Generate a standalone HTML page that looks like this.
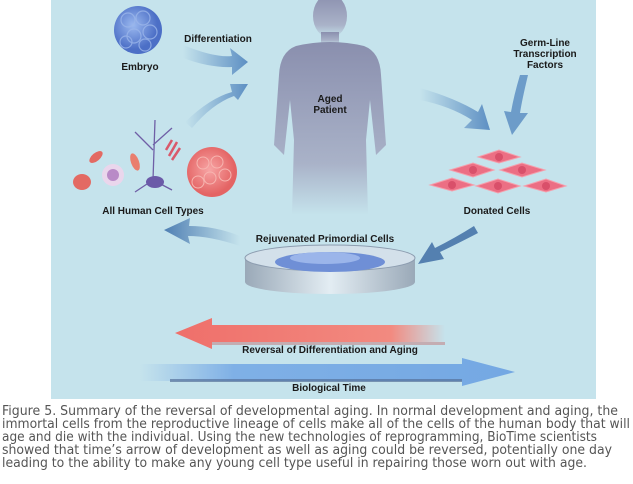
<!DOCTYPE html>
<html><head><meta charset="utf-8"><style>
html,body{margin:0;padding:0;background:#fff;width:633px;height:484px;overflow:hidden}
svg text{font-family:"Liberation Sans",sans-serif;font-weight:bold;font-size:10px;fill:#1a1a1a;text-anchor:middle}
svg text.c{font-family:"DejaVu Sans","Liberation Sans",sans-serif;font-weight:normal;font-size:13px;fill:#555;text-anchor:start}
</style></head><body>
<svg width="633" height="484" style="position:absolute;left:0;top:0">
<defs>
<linearGradient id="fig" x1="0" y1="0" x2="0" y2="1"><stop offset="0" stop-color="#8a8fae"/><stop offset="0.7" stop-color="#a9b2c8"/><stop offset="1" stop-color="#c5e3ec"/></linearGradient>
<radialGradient id="emb" cx=".4" cy=".4"><stop offset="0" stop-color="#9ab8ef"/><stop offset="1" stop-color="#4c6fc6"/></radialGradient>
<radialGradient id="pk" cx=".45" cy=".45"><stop offset="0" stop-color="#f7a5a5"/><stop offset="1" stop-color="#e46464"/></radialGradient>
<linearGradient id="ba" x1="0" x2="1"><stop offset="0" stop-color="#c5e3ec"/><stop offset="1" stop-color="#5d8fc3"/></linearGradient>
<linearGradient id="ba2" x1="1" x2="0"><stop offset="0" stop-color="#c5e3ec"/><stop offset="1" stop-color="#4f7fb3"/></linearGradient>
<linearGradient id="red" x1="0" x2="1"><stop offset="0" stop-color="#ef6f6a"/><stop offset=".8" stop-color="#f28a80"/><stop offset="1" stop-color="#c5e3ec"/></linearGradient>
<linearGradient id="blu" x1="0" x2="1"><stop offset="0" stop-color="#c5e3ec"/><stop offset=".25" stop-color="#7fb0e6"/><stop offset="1" stop-color="#74a8e3"/></linearGradient>
<linearGradient id="dish" x1="0" x2="1"><stop offset="0" stop-color="#9aa9b8"/><stop offset=".5" stop-color="#e3edf3"/><stop offset="1" stop-color="#9aa9b8"/></linearGradient>
</defs>
<rect x="51" y="0" width="545" height="399" fill="#c5e3ec"/>
<g fill="url(#fig)">
<ellipse cx="330" cy="16" rx="17" ry="22"/>
<rect x="321" y="32" width="18" height="12"/>
<path d="M296 46 Q330 38 364 46 Q380 52 381 75 L386 145 L376 155 L370 100 L366 140 L368 215 L292 215 L294 140 L290 100 L284 155 L274 145 L279 75 Q280 52 296 46Z"/>
</g>
<circle cx="138" cy="30" r="24" fill="url(#emb)"/>
<g fill="none" stroke="#9bb6ea" stroke-width="1.2" opacity=".8">
<circle cx="128" cy="20" r="7"/><circle cx="143" cy="18" r="7"/><circle cx="150" cy="32" r="7"/><circle cx="134" cy="36" r="7"/><circle cx="126" cy="42" r="6"/><circle cx="145" cy="45" r="6"/>
</g>
<path d="M183 45 Q215 58 232 56 L230 48 L248 62 L232 75 L232 67 Q210 68 183 58Z" fill="url(#ba)"/>
<path d="M185 122 Q210 98 232 92 L230 84 L248 84 L238 100 L234 96 Q212 104 192 128Z" fill="url(#ba)"/>
<path d="M420 88 Q455 98 478 112 L482 104 L490 130 L464 128 L472 120 Q450 106 420 100Z" fill="url(#ba)"/>
<path d="M528 75 Q522 100 520 113 L528 113 L512 135 L504 111 L511 112 Q514 95 520 75Z" fill="#5d8fc3" opacity=".85"/>
<g fill="#ec6f84" stroke="#f4a0ad" stroke-width="1">
<path d="M478 157 L499 150 L520 157 L499 163Z"/><path d="M450 170 L473 163 L494 170 L473 177Z"/><path d="M500 170 L522 163 L545 170 L522 177Z"/>
<path d="M430 185 L452 178 L474 185 L452 191Z"/><path d="M476 186 L498 179 L520 186 L498 193Z"/><path d="M524 186 L546 179 L566 186 L546 192Z"/>
</g>
<g fill="#d9506a"><circle cx="499" cy="157" r="4"/><circle cx="473" cy="170" r="4"/><circle cx="522" cy="170" r="4"/><circle cx="452" cy="185" r="4"/><circle cx="498" cy="186" r="4"/><circle cx="546" cy="186" r="4"/></g>
<circle cx="212" cy="172" r="25" fill="url(#pk)"/>
<g fill="none" stroke="#f7b5b0" stroke-width="1"><circle cx="203" cy="163" r="6"/><circle cx="217" cy="162" r="6"/><circle cx="225" cy="175" r="6"/><circle cx="210" cy="178" r="6"/><circle cx="198" cy="182" r="6"/></g>
<ellipse cx="82" cy="182" rx="9" ry="8" fill="#e36a63"/>
<ellipse cx="96" cy="157" rx="4" ry="8" transform="rotate(50 96 157)" fill="#e36a63"/>
<circle cx="113" cy="175" r="11" fill="#ead6ec"/><circle cx="113" cy="175" r="6" fill="#b98ac7"/>
<ellipse cx="135" cy="162" rx="4" ry="9" transform="rotate(-20 135 162)" fill="#e97e6e"/>
<g stroke="#6f5fa6" stroke-width="1.3" fill="none"><path d="M155 120 L153 180 M153 150 L135 132 M153 145 L172 128 M153 180 L135 192 M153 180 L172 190"/></g>
<ellipse cx="155" cy="182" rx="9" ry="6" fill="#6b5aa8"/>
<g stroke="#d9596b" stroke-width="2.5"><path d="M166 150 L172 140 M169 156 L177 142 M172 160 L180 148"/></g>
<path d="M240 246 Q210 236 188 236 L190 244 L164 230 L190 218 L189 226 Q215 226 240 236Z" fill="url(#ba2)"/>
<path d="M478 233 Q455 245 440 252 L444 259 L418 264 L432 242 L435 248 Q455 238 474 226Z" fill="#5480b0"/>
<path d="M245 258 L245 282 A85 12 0 0 0 415 282 L415 258Z" fill="url(#dish)"/>
<ellipse cx="330" cy="258" rx="85" ry="13" fill="#d3e0ea" stroke="#8d9db0"/>
<ellipse cx="330" cy="262" rx="55" ry="10" fill="#6f8fd6"/>
<ellipse cx="325" cy="258" rx="35" ry="6" fill="#9bb5ea"/>
<path d="M175 333 L212 318 L212 325 L445 325 L445 342 L212 342 L212 349Z" fill="url(#red)"/>
<path d="M212 342 L445 342 L445 345 L212 345Z" fill="#c47878" opacity=".5"/>
<path d="M140 364 L462 364 L462 358 L515 372 L462 386 L462 381 L140 381Z" fill="url(#blu)"/>
<path d="M170 379 L462 379 L462 382 L170 382Z" fill="#56709a" opacity=".7"/>
<text x="218" y="42">Differentiation</text>
<text x="140" y="70">Embryo</text>
<text x="330" y="102">Aged</text><text x="330" y="113">Patient</text>
<text x="545" y="46">Germ-Line</text><text x="545" y="57">Transcription</text><text x="545" y="68">Factors</text>
<text x="153" y="214">All Human Cell Types</text>
<text x="497" y="214">Donated Cells</text>
<text x="325" y="242">Rejuvenated Primordial Cells</text>
<text x="330" y="353">Reversal of Differentiation and Aging</text>
<text x="329" y="391">Biological Time</text>
<text class="c" x="2" y="415" textLength="616" lengthAdjust="spacingAndGlyphs">Figure 5. Summary of the reversal of developmental aging. In normal development and aging, the</text>
<text class="c" x="2" y="428" textLength="628" lengthAdjust="spacingAndGlyphs">immortal cells from the reproductive lineage of cells make all of the cells of the human body that will</text>
<text class="c" x="2" y="441" textLength="595" lengthAdjust="spacingAndGlyphs">age and die with the individual. Using the new technologies of reprogramming, BioTime scientists</text>
<text class="c" x="2" y="454" textLength="610" lengthAdjust="spacingAndGlyphs">showed that time’s arrow of development as well as aging could be reversed, potentially one day</text>
<text class="c" x="2" y="467" textLength="585" lengthAdjust="spacingAndGlyphs">leading to the ability to make any young cell type useful in repairing those worn out with age.</text>
</svg>
</body></html>
